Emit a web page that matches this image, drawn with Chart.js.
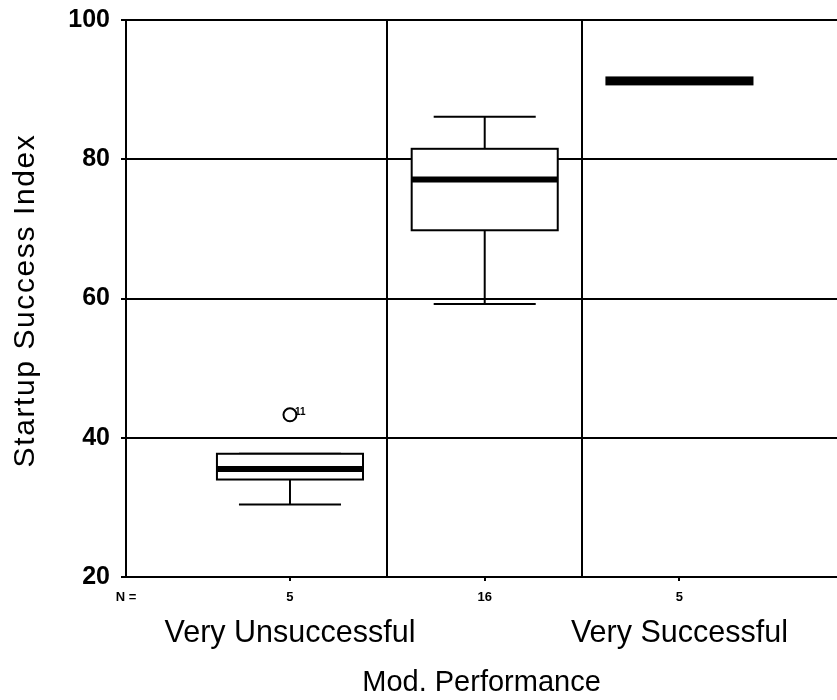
<!DOCTYPE html>
<html><head><meta charset="utf-8">
<script src="https://cdn.jsdelivr.net/npm/chart.js@4/dist/chart.umd.min.js"></script>
<style>html,body{margin:0;padding:0;background:#fff;}</style>
</head><body>
<canvas id="c" width="837" height="700"></canvas>
<script>
// ---- data ----
const categories = ['Very Unsuccessful', '', 'Very Successful'];
const nCounts = ['5', '16', '5'];
const whiskerLow = [30.4, 59.2, 91.25];
const q1 = [34.0, 69.8, 90.75];
const median = [35.5, 77.1, 91.25];
const q3 = [37.7, 81.5, 91.75];
const whiskerHigh = [37.7, 86.1, 91.25];
const outlierGroup = [0];
const outlierValue = [43.3];
const outlierLabel = ['11'];
const yTicks = [20, 40, 60, 80, 100];
const dividers = [0.5, 1.5];
const nLabel = 'N =';
const xTitle = 'Mod. Performance';
const yTitle = 'Startup Success Index';

// ---- layout ----
const FAMILY = "'Liberation Sans', Arial, Helvetica, sans-serif";
const XMIN = -0.842, XMAX = 2.809;
Chart.defaults.font.family = FAMILY;
Chart.defaults.color = '#000';

const noPad = s => { s.paddingTop = 0; s.paddingBottom = 0; s.paddingLeft = 0; s.paddingRight = 0; };

const boxPlugin = {
  id: 'boxes',
  beforeDatasetsDraw(chart) {
    const {ctx, scales: {x, y}} = chart;
    const unit = Math.abs(x.getPixelForValue(1) - x.getPixelForValue(0));
    const boxHalf = unit * 0.375, capHalf = unit * 0.262;
    const seg = (a, b, c, d) => { ctx.beginPath(); ctx.moveTo(a, b); ctx.lineTo(c, d); ctx.stroke(); };
    ctx.save();
    ctx.strokeStyle = '#000';
    q1.forEach((_, i) => {
      const cx = x.getPixelForValue(i);
      const yq1 = y.getPixelForValue(q1[i]), yq3 = y.getPixelForValue(q3[i]);
      const ylo = y.getPixelForValue(whiskerLow[i]), yhi = y.getPixelForValue(whiskerHigh[i]);
      const ym = y.getPixelForValue(median[i]);
      ctx.lineWidth = 2;
      seg(cx, yq3, cx, yhi); seg(cx, yq1, cx, ylo);
      seg(cx - capHalf, yhi, cx + capHalf, yhi);
      seg(cx - capHalf, ylo, cx + capHalf, ylo);
      ctx.fillStyle = '#fff';
      ctx.fillRect(cx - boxHalf, yq3, 2 * boxHalf, yq1 - yq3);
      ctx.strokeRect(cx - boxHalf, yq3, 2 * boxHalf, yq1 - yq3);
      ctx.lineWidth = 6;
      seg(cx - boxHalf, ym, cx + boxHalf, ym);
    });
    ctx.restore();
  },
  afterDatasetsDraw(chart) {
    const {ctx, scales: {x, y}} = chart;
    ctx.save();
    ctx.fillStyle = '#000';
    ctx.font = 'bold 10px ' + FAMILY;
    ctx.textAlign = 'left';
    ctx.textBaseline = 'middle';
    outlierGroup.forEach((g, i) => {
      ctx.fillText(outlierLabel[i], x.getPixelForValue(g) + 5, y.getPixelForValue(outlierValue[i]) - 3);
    });
    ctx.restore();
  },
  afterDraw(chart) {
    const {ctx, chartArea} = chart;
    ctx.save();
    ctx.translate(26, (chartArea.top + chartArea.bottom) / 2 + 2);
    ctx.rotate(-Math.PI / 2);
    ctx.font = '30px ' + FAMILY;
    try { ctx.letterSpacing = '1.6px'; } catch (e) {}
    ctx.fillStyle = '#000';
    ctx.textAlign = 'center';
    ctx.textBaseline = 'middle';
    ctx.fillText(yTitle, 0, 0);
    ctx.restore();
  }
};

new Chart(document.getElementById('c'), {
  type: 'scatter',
  data: {
    datasets: [{
      data: outlierGroup.map((g, i) => ({x: g, y: outlierValue[i]})),
      pointStyle: 'circle',
      pointRadius: 6.5,
      pointBackgroundColor: '#fff',
      pointBorderColor: '#000',
      pointBorderWidth: 2
    }]
  },
  options: {
    responsive: false,
    animation: false,
    devicePixelRatio: 1,
    layout: {autoPadding: false, padding: {top: 20, right: 0, bottom: 0, left: 0}},
    plugins: {legend: {display: false}, tooltip: {enabled: false}},
    scales: {
      x: {
        type: 'linear', position: 'bottom', min: XMIN, max: XMAX, bounds: 'data', weight: 0,
        afterBuildTicks: s => { s.ticks = [{value: XMIN}].concat(nCounts.map((_, i) => ({value: i}))); },
        ticks: {
          autoSkip: false, maxRotation: 0, padding: 9, color: '#000',
          font: {size: 13, weight: 'bold'},
          callback: (v, i) => i === 0 ? nLabel : nCounts[i - 1]
        },
        grid: {
          drawOnChartArea: false, color: '#000', lineWidth: 2, tickLength: 4,
          tickColor: c => c.index === 0 ? 'rgba(0,0,0,0)' : '#000'
        },
        border: {display: true, color: '#000', width: 2},
        afterFit: s => { s.height = 33; noPad(s); }
      },
      x2: {
        type: 'linear', position: 'bottom', min: XMIN, max: XMAX, bounds: 'data', weight: 1,
        afterBuildTicks: s => { s.ticks = categories.map((_, i) => ({value: i})); },
        ticks: {
          autoSkip: false, maxRotation: 0, padding: 5, color: '#000',
          font: {size: 30.5},
          callback: (v, i) => categories[i]
        },
        grid: {display: false, drawTicks: false},
        border: {display: false},
        title: {display: true, text: xTitle, color: '#000', font: {size: 29}, padding: {top: 0, bottom: 0}},
        afterFit: s => { s.height = 90; noPad(s); }
      },
      xg: {
        type: 'linear', position: 'bottom', min: XMIN, max: XMAX, bounds: 'data', weight: 2,
        afterBuildTicks: s => { s.ticks = dividers.map(v => ({value: v})); },
        ticks: {display: false},
        grid: {color: '#000', lineWidth: 2, drawTicks: false},
        border: {display: false},
        afterFit: s => { s.height = 0; noPad(s); }
      },
      y: {
        type: 'linear', min: 20, max: 100, bounds: 'data',
        afterBuildTicks: s => { s.ticks = yTicks.map(v => ({value: v})); },
        ticks: {color: '#000', padding: 11, font: {size: 25, weight: 'bold'}},
        grid: {color: '#000', lineWidth: 2, tickLength: 5, tickColor: '#000'},
        border: {display: true, color: '#000', width: 2},
        afterFit: s => { s.width = 126; noPad(s); }
      }
    }
  },
  plugins: [boxPlugin]
});
</script>
</body></html>
